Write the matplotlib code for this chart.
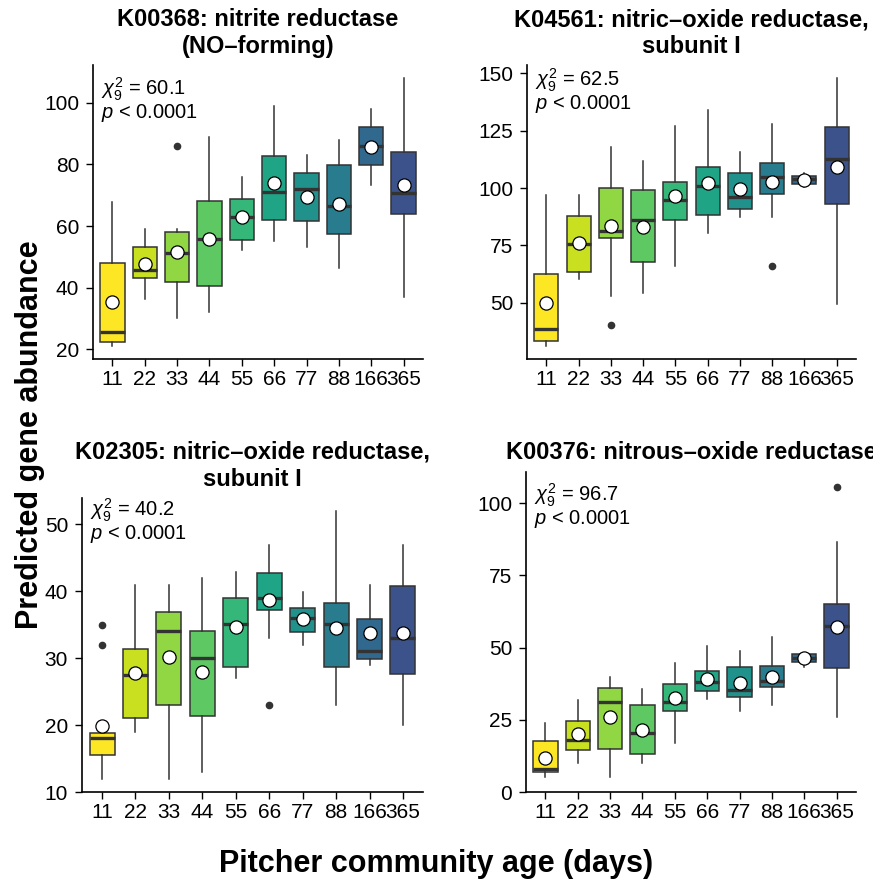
import numpy as np
import matplotlib
matplotlib.use('Agg')
import matplotlib.pyplot as plt

plt.rcParams['font.family'] = ['Liberation Sans', 'DejaVu Sans']
plt.rcParams['mathtext.fontset'] = 'custom'
plt.rcParams['mathtext.rm'] = 'Liberation Sans'
plt.rcParams['mathtext.it'] = 'Liberation Sans:italic'

ages = ['11', '22', '33', '44', '55', '66', '77', '88', '166', '365']

# K00368: nitrite reductase (NO-forming)
k00368_lo = [21.2, 36.2, 30.1, 32.0, 52.2, 55.2, 53.1, 46.3, 73.2, 37.1]
k00368_q1 = [22.3, 43.2, 41.9, 40.6, 55.5, 61.9, 61.6, 57.3, 79.7, 63.8]
k00368_med = [25.5, 45.7, 51.1, 55.7, 62.8, 71.0, 72.1, 66.6, 86.1, 70.6]
k00368_q3 = [48.1, 53.1, 58.2, 68.2, 68.8, 82.6, 77.1, 79.8, 92.1, 84.0]
k00368_hi = [67.9, 58.9, 59.0, 89.0, 76.0, 98.9, 83.0, 87.9, 97.9, 107.9]
k00368_mean = [35.5, 47.7, 51.7, 55.7, 62.8, 73.8, 69.3, 67.1, 85.7, 73.2]
k00368_out = [[], [], [86.1], [], [], [], [], [], [], []]

# K04561: nitric-oxide reductase subunit I
k04561_lo = [31.3, 60.2, 53.0, 54.1, 66.1, 80.2, 87.2, 87.2, 100.3, 49.3]
k04561_q1 = [33.4, 63.2, 78.3, 67.7, 86.0, 88.2, 91.0, 97.5, 101.6, 93.0]
k04561_med = [38.5, 75.4, 81.4, 86.0, 94.6, 100.7, 96.1, 104.8, 103.9, 112.6]
k04561_q3 = [62.5, 87.8, 99.9, 99.1, 102.6, 109.3, 106.5, 110.8, 105.4, 126.5]
k04561_hi = [96.9, 96.9, 118.0, 111.9, 127.0, 134.0, 115.8, 127.9, 106.7, 147.8]
k04561_mean = [50.0, 76.2, 83.6, 83.0, 96.4, 102.0, 99.4, 102.8, 103.3, 109.0]
k04561_out = [[], [], [40.1], [], [], [], [], [66.0], [], []]

# K02305: nitric-oxide reductase subunit I
k02305_lo = [12.0, 18.9, 12.0, 13.0, 27.0, 33.0, 32.0, 23.0, 29.0, 20.0]
k02305_q1 = [15.5, 21.0, 23.0, 21.3, 28.7, 37.2, 33.9, 28.7, 29.9, 27.6]
k02305_med = [18.1, 27.5, 34.0, 30.0, 35.1, 39.0, 36.0, 35.1, 31.1, 33.0]
k02305_q3 = [18.75, 31.4, 36.9, 34.0, 38.9, 42.7, 37.4, 38.2, 35.9, 40.8]
k02305_hi = [18.75, 40.9, 40.9, 41.9, 42.9, 46.9, 39.9, 51.9, 40.9, 46.9]
k02305_mean = [19.8, 27.8, 30.2, 27.9, 34.6, 38.6, 35.8, 34.5, 33.7, 33.8]
k02305_out = [[32.0, 35.0], [], [], [], [], [23.0], [], [], [], []]

# K00376: nitrous-oxide reductase
k00376_lo = [5.2, 10.2, 5.2, 10.2, 17.1, 32.1, 28.1, 30.0, 43.4, 26.1]
k00376_q1 = [6.9, 14.6, 15.0, 13.2, 28.1, 35.0, 33.0, 36.2, 44.9, 43.0]
k00376_med = [7.9, 18.1, 31.1, 20.6, 31.3, 38.0, 35.3, 38.6, 46.5, 57.4]
k00376_q3 = [17.8, 24.6, 35.9, 30.0, 37.3, 42.0, 43.2, 43.6, 47.8, 65.2]
k00376_hi = [23.8, 31.9, 39.8, 35.8, 44.8, 50.6, 48.8, 53.7, 48.0, 86.5]
k00376_mean = [11.7, 20.0, 25.9, 21.5, 32.7, 39.2, 37.9, 39.9, 46.3, 57.0]
k00376_out = [[], [], [], [], [], [], [], [], [], [105.8]]

titles = ['K00368: nitrite reductase\n(NO\u2013forming)',
          'K04561: nitric\u2013oxide reductase,\nsubunit I',
          'K02305: nitric\u2013oxide reductase,\nsubunit I',
          'K00376: nitrous\u2013oxide reductase']
chisq = ['60.1', '62.5', '40.2', '96.7']
yticks = [[20, 40, 60, 80, 100], [50, 75, 100, 125, 150],
          [10, 20, 30, 40, 50], [0, 25, 50, 75, 100]]

panels = [
    (k00368_lo, k00368_q1, k00368_med, k00368_q3, k00368_hi, k00368_mean, k00368_out),
    (k04561_lo, k04561_q1, k04561_med, k04561_q3, k04561_hi, k04561_mean, k04561_out),
    (k02305_lo, k02305_q1, k02305_med, k02305_q3, k02305_hi, k02305_mean, k02305_out),
    (k00376_lo, k00376_q1, k00376_med, k00376_q3, k00376_hi, k00376_mean, k00376_out),
]

W, H = 873, 884
# axes boxes in pixels: left, top, right, bottom
boxes_px = [(93, 65, 423, 359), (527, 65, 856, 359),
            (82, 498, 423, 792), (526, 472, 856, 792)]
title_top = [8, 8, 441, 441]
annot_dy = [30, 21, 18, 29]

fills = plt.cm.viridis(np.linspace(1.0, 0.25, len(ages)))
edge = '#333333'

fig = plt.figure(figsize=(W / 100, H / 100), dpi=100)

for i, (lo, q1, med, q3, hi, mean, out) in enumerate(panels):
    l, t, r, b = boxes_px[i]
    ax = fig.add_axes([l / W, 1 - b / H, (r - l) / W, (b - t) / H])
    stats = []
    for j in range(len(ages)):
        stats.append(dict(whislo=lo[j], q1=q1[j], med=med[j], q3=q3[j],
                          whishi=hi[j], mean=mean[j], fliers=out[j]))
    bp = ax.bxp(stats, positions=range(len(ages)), widths=0.75,
                patch_artist=True, showmeans=True, showcaps=False,
                boxprops=dict(edgecolor=edge, linewidth=1.1),
                whiskerprops=dict(color=edge, linewidth=1.1),
                medianprops=dict(color=edge, linewidth=2.4),
                flierprops=dict(marker='o', markerfacecolor=edge,
                                markeredgecolor=edge, markersize=4.5),
                meanprops=dict(marker='o', markerfacecolor='white',
                               markeredgecolor='black', markersize=9.5,
                               markeredgewidth=0.9))
    for patch, c in zip(bp['boxes'], fills):
        patch.set_facecolor(c)
    for m in bp['means']:
        m.set_zorder(5)

    allv = lo + hi + [v for o in out for v in o]
    span = max(allv) - min(allv)
    ax.set_ylim(min(allv) - 0.05 * span, max(allv) + 0.05 * span)
    ax.set_xlim(-0.6, len(ages) - 0.4)
    ax.set_xticks(range(len(ages)))
    ax.set_xticklabels(ages)
    ax.set_yticks(yticks[i])
    ax.tick_params(labelsize=15, length=5, width=1, colors='black')
    ax.tick_params(axis='y', pad=5)
    ax.tick_params(axis='x', pad=3)
    for s in ['top', 'right']:
        ax.spines[s].set_visible(False)
    for s in ['left', 'bottom']:
        ax.spines[s].set_linewidth(1.2)

    ax.text((l + (r - l) / 2) / W, 1 - title_top[i] / H, titles[i],
            transform=fig.transFigure, ha='center', va='top',
            fontsize=17, fontweight='bold', linespacing=1.2)
    tx = (l + 8) / W
    ty = 1 - (t + annot_dy[i]) / H
    fig.text(tx, ty, r'$\chi^{2}_{9}$ = ' + chisq[i], fontsize=14.5, va='baseline')
    fig.text(tx, ty - 23 / H, r'$p$ < 0.0001', fontsize=14.5, va='baseline')

fig.text(30 / W, 1 - 435 / H, 'Predicted gene abundance', rotation=90,
         ha='center', va='center', fontsize=22, fontweight='bold')
fig.text(436 / W, 1 - 872 / H, 'Pitcher community age (days)',
         ha='center', va='baseline', fontsize=22, fontweight='bold')

fig.savefig('out.png', dpi=100)
